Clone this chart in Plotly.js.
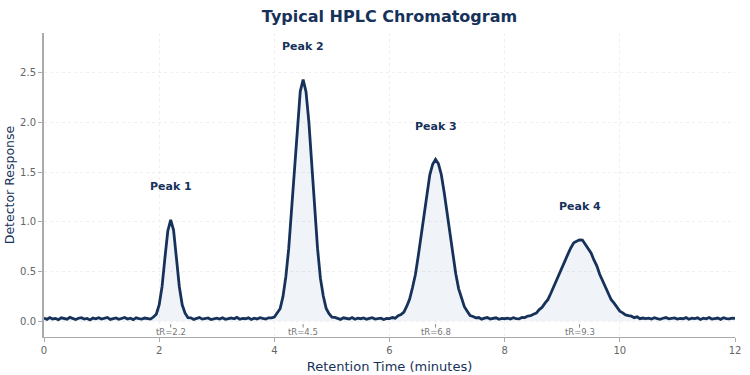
<!DOCTYPE html>
<html>
<head>
<meta charset="utf-8">
<script src="https://cdn.plot.ly/plotly-3.0.1.min.js"></script>
<style>
  html, body { margin: 0; padding: 0; background: #ffffff; }
  #chart { width: 750px; height: 375px; }
</style>
</head>
<body>
<div id="chart"></div>
<script>
// Detector trace sampled every 0.05 min from 0 to 12 min
const timeStep = 0.05;
const response = [
  0.031, 0.018, 0.036, 0.022, 0.027, 0.014, 0.033, 0.025, 0.019, 0.038,
  0.024, 0.016, 0.029, 0.035, 0.021, 0.027, 0.012, 0.030, 0.023, 0.034,
  0.020, 0.028, 0.037, 0.017, 0.026, 0.032, 0.019, 0.024, 0.036, 0.021,
  0.029, 0.015, 0.033, 0.026, 0.020, 0.031, 0.024, 0.020, 0.041, 0.069,
  0.162, 0.347, 0.637, 0.907, 1.019, 0.916, 0.633, 0.346, 0.164, 0.079,
  0.034, 0.033, 0.017, 0.028, 0.036, 0.020, 0.025, 0.032, 0.016, 0.027,
  0.030, 0.021, 0.034, 0.018, 0.026, 0.031, 0.023, 0.037, 0.019, 0.028,
  0.024, 0.033, 0.016, 0.029, 0.022, 0.035, 0.027, 0.020, 0.033, 0.032,
  0.040, 0.076, 0.124, 0.246, 0.447, 0.732, 1.127, 1.568, 2.005, 2.312,
  2.430, 2.310, 2.003, 1.567, 1.131, 0.734, 0.432, 0.253, 0.128, 0.074,
  0.039, 0.038, 0.027, 0.017, 0.033, 0.027, 0.022, 0.036, 0.019, 0.029,
  0.024, 0.032, 0.018, 0.028, 0.035, 0.021, 0.026, 0.030, 0.016, 0.027,
  0.025, 0.036, 0.029, 0.054, 0.065, 0.091, 0.150, 0.221, 0.338, 0.469,
  0.658, 0.861, 1.091, 1.293, 1.473, 1.579, 1.628, 1.583, 1.474, 1.294,
  1.077, 0.871, 0.656, 0.479, 0.327, 0.232, 0.145, 0.100, 0.056, 0.047,
  0.033, 0.036, 0.020, 0.029, 0.036, 0.022, 0.026, 0.033, 0.019, 0.028,
  0.024, 0.030, 0.021, 0.034, 0.026, 0.022, 0.037, 0.036, 0.051, 0.054,
  0.070, 0.081, 0.116, 0.139, 0.181, 0.216, 0.278, 0.346, 0.401, 0.479,
  0.547, 0.624, 0.677, 0.739, 0.788, 0.803, 0.818, 0.816, 0.774, 0.738,
  0.687, 0.616, 0.557, 0.471, 0.407, 0.337, 0.283, 0.215, 0.180, 0.138,
  0.100, 0.083, 0.062, 0.055, 0.050, 0.035, 0.043, 0.024, 0.031, 0.026,
  0.030, 0.021, 0.034, 0.025, 0.018, 0.029, 0.036, 0.023, 0.027, 0.032,
  0.020, 0.028, 0.024, 0.035, 0.019, 0.030, 0.026, 0.033, 0.017, 0.029,
  0.023, 0.036, 0.021, 0.028, 0.031, 0.018, 0.034, 0.025, 0.022, 0.030, 0.027
];

// Peak identification
const peakNames = ["Peak 1", "Peak 2", "Peak 3", "Peak 4"];
const peakTimes = [2.2, 4.5, 6.8, 9.3];
const peakHeights = [1.02, 2.43, 1.63, 0.82];

const times = response.map((_, i) => +(i * timeStep).toFixed(2));

const navy = "#17325a";
const font = "DejaVu Sans, Verdana, sans-serif";

const trace = {
  x: times,
  y: response,
  type: "scatter",
  mode: "lines",
  line: { color: navy, width: 2.8 },
  fill: "tozeroy",
  fillcolor: "rgba(110,150,190,0.10)",
  hoverinfo: "x+y"
};

const annotations = [];
const shapes = [];
peakNames.forEach((name, i) => {
  annotations.push({
    x: peakTimes[i], y: peakHeights[i] + 0.33,
    xref: "x", yref: "y",
    text: name, showarrow: false,
    font: { family: font, size: 11, color: navy, weight: 700 }
  });
  annotations.push({
    x: peakTimes[i], y: -0.105,
    xref: "x", yref: "y",
    text: "tR=" + peakTimes[i], showarrow: false,
    font: { family: font, size: 8.5, color: "#777777" }
  });
  shapes.push({
    type: "line", xref: "x", yref: "y",
    x0: peakTimes[i], x1: peakTimes[i], y0: -0.03, y1: -0.065,
    line: { color: "#888888", width: 1 }
  });
});

const layout = {
  width: 750,
  height: 375,
  margin: { l: 44, r: 15, t: 33, b: 38 },
  paper_bgcolor: "#ffffff",
  plot_bgcolor: "#ffffff",
  showlegend: false,
  font: { family: font, color: "#666666" },
  title: {
    text: "Typical HPLC Chromatogram",
    x: 0.5, xref: "paper", xanchor: "center",
    y: 0.957, yanchor: "middle",
    font: { family: font, size: 16, color: navy, weight: 700 }
  },
  xaxis: {
    range: [0, 12],
    dtick: 2,
    tick0: 0,
    showgrid: true,
    gridcolor: "#efefef",
    griddash: "dot",
    zeroline: false,
    showline: true,
    linecolor: "#aaaaaa",
    linewidth: 1,
    ticks: "outside",
    ticklen: 4,
    tickcolor: "#aaaaaa",
    tickfont: { family: font, size: 10, color: "#666666" },
    title: { text: "Retention Time (minutes)", standoff: 6,
             font: { family: font, size: 13, color: navy } }
  },
  yaxis: {
    range: [-0.16, 2.9],
    dtick: 0.5,
    tick0: 0,
    tickformat: ".1f",
    showgrid: true,
    gridcolor: "#efefef",
    griddash: "dot",
    zeroline: false,
    showline: true,
    linecolor: "#aaaaaa",
    linewidth: 2,
    ticks: "outside",
    ticklen: 4,
    tickcolor: "#aaaaaa",
    tickfont: { family: font, size: 10, color: "#666666" },
    title: { text: "Detector Response", standoff: 3,
             font: { family: font, size: 12.5, color: navy } }
  },
  annotations: annotations,
  shapes: shapes
};

Plotly.newPlot("chart", [trace], layout, { displayModeBar: false, staticPlot: true });
</script>
</body>
</html>
